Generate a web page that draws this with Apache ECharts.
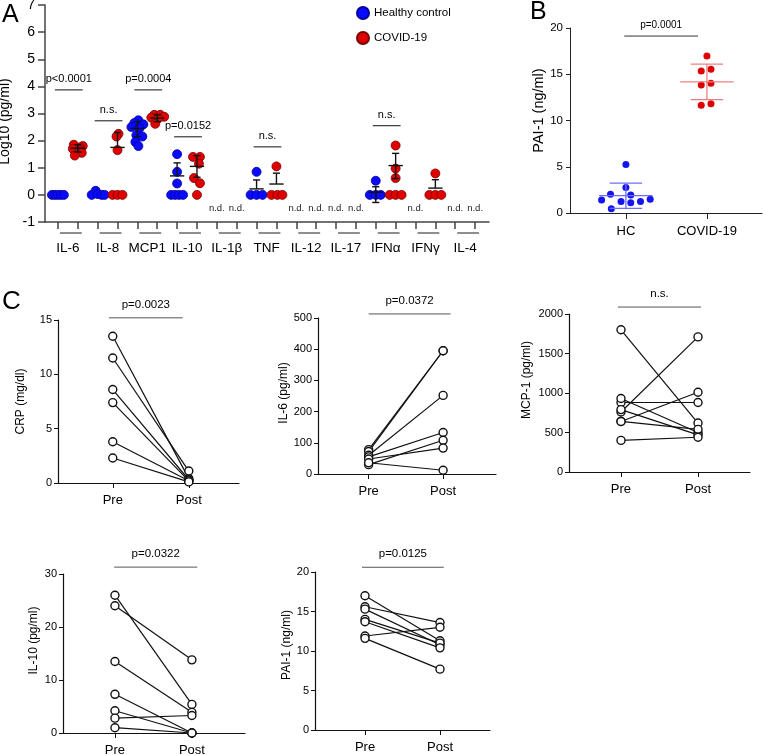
<!DOCTYPE html>
<html><head><meta charset="utf-8">
<script src="https://cdn.jsdelivr.net/npm/echarts@6/dist/echarts.min.js"></script>
<style>html,body{margin:0;padding:0;background:#fff}#c{width:763px;height:755px}</style>
</head><body><div id="c"></div><script>
const SANS = "'Liberation Sans', Arial, Helvetica, sans-serif";
const NARROW = "'Liberation Sans', Arial, Helvetica, sans-serif";

// ---------- Panel A : Log10 (pg/ml) ----------
const aGroups = ['IL-6','IL-8','MCP1','IL-10','IL-1β','TNF','IL-12','IL-17','IFNα','IFNγ','IL-4'];
// [slot position (with jitter), log10 value]; even slot = healthy, odd slot = COVID-19
const aHealthy = [
  [-0.3,0],[-0.15,0],[0,0],[0.15,0],[0.3,0],
  [1.9,0.15],[1.7,0],[2.0,0.03],[2.2,0],[2.35,0],
  [4.05,2.75],[3.85,2.65],[4.3,2.6],[3.7,2.5],[4.1,2.45],[3.95,2.2],[4.25,2.15],[3.9,1.95],[4.05,1.8],
  [6,1.5],[6,0.85],[6,0.42],[5.7,0],[5.9,0],[6.1,0],[6.3,0],
  [10,0.85],[9.7,0],[10,0],[10.3,0],
  [16,0.52],[15.7,0],[16,0],[16.25,0]
];
const aCovid = [
  [0.8,1.85],[1.25,1.8],[1.1,1.75],[0.75,1.7],[1.1,1.65],[1.2,1.55],[0.85,1.45],
  [3.05,2.25],[2.95,2.15],[3.0,1.65],[2.75,0],[3.0,0],[3.25,0],
  [4.85,2.95],[5.15,2.95],[5.35,2.88],[4.7,2.85],[5.05,2.82],[4.9,2.62],
  [6.8,1.4],[7.15,1.4],[7.1,1.15],[6.85,0.62],[7.15,0.43],[7.0,0],
  [11,1.05],[10.75,0],[11.05,0],[11.3,0],
  [17,1.82],[17,0.97],[17,0.62],[16.7,0],[17,0],[17.3,0],
  [19,0.79],[18.7,0],[19,0],[19.3,0]
];
// [slot, mean, lower, upper]
const aErrorBars = [[1,1.72,1.58,1.85],[3,1.75,1.75,2.3],[4,2.45,2.15,2.7],[5,2.83,2.7,2.95],
  [6,0.7,0.7,1.18],[7,1.05,0.65,1.45],[10,0.22,0.22,0.55],[11,0.4,0.4,0.8],
  [16,0.1,-0.28,0.3],[17,1.08,0.6,1.53],[19,0.25,0.25,0.56]];
// [first slot, label, height]
const aBrackets = [[0,'p<0.0001',3.87],[2,'n.s.',2.73],[4,'p=0.0004',3.87],[6,'p=0.0152',2.14],[10,'n.s.',1.77],[16,'n.s.',2.55]];
const aNotDetected = [8,9,12,13,14,15,18,20,21];

// ---------- Panel B : PAI-1 (ng/ml) ----------
const bCats = ['HC','COVID-19'];
const bHealthy = [[0,5.25],[0,2.75],[-0.19,2.03],[0.06,1.95],[-0.3,1.41],[-0.06,1.23],[0.06,1.12],[0.18,1.23],[0.3,1.49],[-0.18,0.47]];
const bCovid = [[1,16.96],[0.93,15.36],[1.05,15.54],[0.93,13.84],[1.05,14.02],[0.93,11.66],[1.05,11.8]];
const bErrorBars = [[0,1.88,0.51,3.22],[1,14.17,12.25,16.09]];
const bBracket = [[-0.02,0.89,19.13,'p=0.0001']];

// ---------- Panel C : Pre / Post ----------
const cCats = ['Pre','Post'];
const crpPre  = [13.5,11.5,8.6,7.4,3.8,2.3];
const crpPost = [0.4,1.1,0.3,0.2,0.2,0.1];
const il6Pre  = [78,72,60,55,30,48,36];
const il6Post = [395,395,252,133,108,83,12];
const mcpPre  = [1800,760,640,880,930,790,640,400];
const mcpPost = [620,1710,1010,880,500,470,540,440];
const il10Pre  = [26,24,13.5,7.3,4.2,2.8,1.0];
const il10Post = [5.4,13.8,3.9,0,0,3.3,0];
const paiPre  = [17.0,15.6,15.3,14.0,13.7,11.9,11.6];
const paiPost = [11.3,13.6,10.8,11.0,10.4,13.0,7.7];
const cPValues = ['p=0.0023','p=0.0372','n.s.','p=0.0322','p=0.0125'];

const cPanels = [
  {pre:crpPre, post:crpPost, name:'CRP (mg/dl)', max:15, interval:5, bracketY:15.2, bx:[-0.05,0.92],
   grid:{left:58,top:320,width:181,height:163}, xr:[-0.72,1.66], nameGap:31, pad:0},
  {pre:il6Pre, post:il6Post, name:'IL-6 (pg/ml)', max:500, interval:100, bracketY:513, bx:[0,1.1],
   grid:{left:318,top:318,width:178,height:156}, xr:[-0.68,1.71], nameGap:26, pad:6},
  {pre:mcpPre, post:mcpPost, name:'MCP-1 (pg/ml)', max:2000, interval:500, bracketY:2088, bx:[-0.04,1.04],
   grid:{left:569,top:314,width:181,height:158}, xr:[-0.675,1.675], nameGap:36, pad:26},
  {pre:il10Pre, post:il10Post, name:'IL-10 (pg/ml)', max:30, interval:10, bracketY:31.3, bx:[-0.01,1.07],
   grid:{left:63,top:574,width:182,height:159}, xr:[-0.675,1.69], nameGap:23, pad:26},
  {pre:paiPre, post:paiPost, name:'PAI-1 (ng/ml)', max:20, interval:5, bracketY:20.6, bx:[-0.04,1.05],
   grid:{left:315,top:572,width:175,height:158}, xr:[-0.667,1.667], nameGap:22, pad:12}
];

// ---------- helpers ----------
function seg(api, a, b, c, d, color, w) {
  const p = api.coord([a, b]), q = api.coord([c, d]);
  return {type:'line', shape:{x1:p[0],y1:p[1],x2:q[0],y2:q[1]}, style:{stroke:color, lineWidth:w}};
}
function errorBarRender(bars, meanHalf, capHalf, color, w) {
  return function (params, api) {
    const [x, m, lo, hi] = bars[params.dataIndex];
    const ch = [seg(api, x-meanHalf, m, x+meanHalf, m, color, w)];
    if (hi > m) { ch.push(seg(api, x, m, x, hi, color, w)); ch.push(seg(api, x-capHalf, hi, x+capHalf, hi, color, w)); }
    if (lo < m) { ch.push(seg(api, x, lo, x, m, color, w)); ch.push(seg(api, x-capHalf, lo, x+capHalf, lo, color, w)); }
    return {type:'group', children:ch};
  };
}
function bracketRender(list, gap, fontSize, family, color) {
  return function (params, api) {
    const [x1, x2, y, t] = list[params.dataIndex];
    const p = api.coord([x1, y]), q = api.coord([x2, y]);
    return {type:'group', children:[
      {type:'line', shape:{x1:p[0],y1:p[1],x2:q[0],y2:q[1]}, style:{stroke:color, lineWidth:1}},
      {type:'text', x:(p[0]+q[0])/2, y:p[1]-gap, style:{text:t, fill:'#000', fontSize:fontSize, fontFamily:family, align:'center', verticalAlign:'middle'}}
    ]};
  };
}
function customSeries(idx, data, render, z) {
  return {type:'custom', coordinateSystem:'cartesian2d', xAxisIndex:idx, yAxisIndex:idx, data:data,
    encode:{x:0, y:1}, renderItem:render, z:z||4, silent:true, clip:false};
}
const plain = v => String(v);

const grids = [], xAxes = [], yAxes = [], series = [];

// ---- Panel A axes ----
grids.push({left:45, top:5, width:444, height:217});
const aSlots = Array.from({length:22}, (_, i) => i);
xAxes.push({type:'value', gridIndex:0, min:-0.65, max:21.7,
  axisLine:{show:true, onZero:false, lineStyle:{color:'#444', width:1.5}},
  axisTick:{show:true, customValues:aSlots, length:7, lineStyle:{color:'#444', width:1.5}},
  axisLabel:{show:true, customValues:aGroups.map((g,k)=>2*k+0.5), formatter:v=>aGroups[Math.round((v-0.5)/2)],
    margin:19, fontSize:13.5, fontFamily:SANS, color:'#000'},
  splitLine:{show:false}});
yAxes.push({type:'value', gridIndex:0, min:-1, max:7, interval:1,
  axisLine:{show:true, onZero:false, lineStyle:{color:'#444', width:1.5}},
  axisTick:{show:true, length:7, lineStyle:{color:'#444', width:1.5}},
  axisLabel:{fontSize:14, fontFamily:SANS, color:'#000', margin:10, formatter:plain},
  splitLine:{show:false},
  name:'Log10 (pg/ml)', nameLocation:'middle', nameGap:28,
  nameTextStyle:{fontSize:14, fontFamily:SANS, color:'#000', padding:[0,16,0,0]}});

series.push({type:'scatter', name:'Healthy control', xAxisIndex:0, yAxisIndex:0, data:aHealthy, symbolSize:9,
  itemStyle:{color:'#0a0aff', borderColor:'#00009a', borderWidth:0.8, opacity:1}, z:3, silent:true});
series.push({type:'scatter', name:'COVID-19', xAxisIndex:0, yAxisIndex:0, data:aCovid, symbolSize:9,
  itemStyle:{color:'#e00000', borderColor:'#7a0000', borderWidth:0.8, opacity:1}, z:3, silent:true});
series.push(customSeries(0, aErrorBars.map(b=>[b[0],b[1]]), errorBarRender(aErrorBars, 0.36, 0.18, '#111', 1.4), 5));
const aBracketList = aBrackets.map(b => [b[0]-0.15, b[0]+1.25, b[2], b[1]]);
series.push(customSeries(0, aBracketList.map(b=>[b[0],b[2]]), bracketRender(aBracketList, 11, 11, SANS, '#111')));
series.push(customSeries(0, aNotDetected.map(s=>[s,-0.5]), function (params, api) {
  const p = api.coord([aNotDetected[params.dataIndex], -0.5]);
  return {type:'text', x:p[0], y:p[1], style:{text:'n.d.', fontSize:9.5, fontFamily:SANS, fill:'#222', align:'center', verticalAlign:'middle'}};
}));
series.push(customSeries(0, aGroups.map((g,k)=>[2*k,-1]), function (params, api) {
  const k = params.dataIndex;
  const p = api.coord([2*k+0.1, -1]), q = api.coord([2*k+1.2, -1]);
  return {type:'line', shape:{x1:p[0], y1:p[1]+11, x2:q[0], y2:q[1]+11}, style:{stroke:'#444', lineWidth:1.2}};
}));

// ---- Panel B axes ----
grids.push({left:570, top:28, width:192, height:185});
xAxes.push({type:'value', gridIndex:1, min:-0.69, max:1.68,
  axisLine:{show:true, onZero:false, lineStyle:{color:'#222', width:1}},
  axisTick:{show:true, customValues:[0,1], length:6, lineStyle:{color:'#222'}},
  axisLabel:{show:true, customValues:[0,1], formatter:v=>bCats[Math.round(v)], margin:12, fontSize:13, fontFamily:NARROW, color:'#000'},
  splitLine:{show:false}});
yAxes.push({type:'value', gridIndex:1, min:0, max:20, interval:5,
  axisLine:{show:true, onZero:false, lineStyle:{color:'#222', width:1}},
  axisTick:{show:true, length:4, lineStyle:{color:'#222'}},
  axisLabel:{fontSize:11.5, fontFamily:NARROW, color:'#000', margin:7, formatter:plain},
  splitLine:{show:false},
  name:'PAI-1 (ng/ml)', nameLocation:'middle', nameGap:23,
  nameTextStyle:{fontSize:14.5, fontFamily:NARROW, color:'#000', padding:[0,0,0,20]}});
series.push({type:'scatter', name:'HC (PAI-1)', xAxisIndex:1, yAxisIndex:1, data:bHealthy, symbolSize:7,
  itemStyle:{color:'#1414ee', opacity:1}, z:3, silent:true});
series.push({type:'scatter', name:'COVID-19 (PAI-1)', xAxisIndex:1, yAxisIndex:1, data:bCovid, symbolSize:7,
  itemStyle:{color:'#dd0000', opacity:1}, z:3, silent:true});
series.push(customSeries(1, [bErrorBars[0]].map(b=>[b[0],b[1]]), errorBarRender([bErrorBars[0]], 0.33, 0.2, '#6c6cff', 1.3), 5));
series.push(customSeries(1, [bErrorBars[1]].map(b=>[b[0],b[1]]), errorBarRender([bErrorBars[1]], 0.33, 0.2, '#f08080', 1.3), 5));
series.push(customSeries(1, bBracket.map(b=>[b[0],b[2]]), bracketRender(bBracket, 11, 10, NARROW, '#333')));

// ---- Panel C axes ----
cPanels.forEach((P, i) => {
  const gi = i + 2;
  grids.push(P.grid);
  xAxes.push({type:'value', gridIndex:gi, min:P.xr[0], max:P.xr[1],
    axisLine:{show:true, onZero:false, lineStyle:{color:'#111', width:1.2}},
    axisTick:{show:true, customValues:[0,1], length:5, lineStyle:{color:'#111'}},
    axisLabel:{show:true, customValues:[0,1], formatter:v=>cCats[Math.round(v)], margin:11, fontSize:13, fontFamily:NARROW, color:'#000'},
    splitLine:{show:false}});
  yAxes.push({type:'value', gridIndex:gi, min:0, max:P.max, interval:P.interval,
    axisLine:{show:true, onZero:false, lineStyle:{color:'#111', width:1.2}},
    axisTick:{show:true, length:4, lineStyle:{color:'#111'}},
    axisLabel:{fontSize:11, fontFamily:NARROW, color:'#000', margin:6, formatter:plain},
    splitLine:{show:false},
    name:P.name, nameLocation:'middle', nameGap:P.nameGap,
    nameTextStyle:{fontSize:12, fontFamily:NARROW, color:'#000', padding:[0,0,0,P.pad]}});
  const pairs = P.pre.map((v, k) => [v, P.post[k]]);
  series.push(customSeries(gi, pairs.map(p=>[0,p[0]]), function (params, api) {
    const pr = pairs[params.dataIndex];
    return seg(api, 0, pr[0], 1, pr[1], '#111', 1.2);
  }, 2));
  const pts = P.pre.map(v => [0, v]).concat(P.post.map(v => [1, v]));
  series.push({type:'scatter', xAxisIndex:gi, yAxisIndex:gi, data:pts, symbol:'circle', symbolSize:8,
    itemStyle:{color:'#fff', borderColor:'#111', borderWidth:1.4, opacity:1}, z:3, silent:true});
  const br = [[P.bx[0], P.bx[1], P.bracketY, cPValues[i]]];
  series.push(customSeries(gi, [[P.bx[0], P.bracketY]], bracketRender(br, 13, 11.5, SANS, '#555')));
});

const option = {
  animation:false,
  backgroundColor:'#fff',
  grid:grids.map(g => Object.assign({containLabel:false, outerBoundsMode:'none'}, g)),
  xAxis:xAxes, yAxis:yAxes, series:series,
  legend:{data:['Healthy control','COVID-19'], orient:'vertical', left:351, top:1, itemWidth:12, itemHeight:12,
    itemGap:11, icon:'circle', selectedMode:false, textStyle:{fontSize:11.5, fontFamily:SANS, color:'#000'}},
  graphic:[
    {type:'text', left:2, top:3, style:{text:'A', fontSize:25, fontFamily:SANS, fill:'#000'}},
    {type:'text', left:530, top:0, style:{text:'B', fontSize:25, fontFamily:SANS, fill:'#000'}},
    {type:'text', left:2, top:289, style:{text:'C', fontSize:26, fontFamily:SANS, fill:'#000'}}
  ]
};
const chart = echarts.init(document.getElementById('c'), null, {renderer:'canvas', width:763, height:755});
chart.setOption(option);
</script></body></html>
